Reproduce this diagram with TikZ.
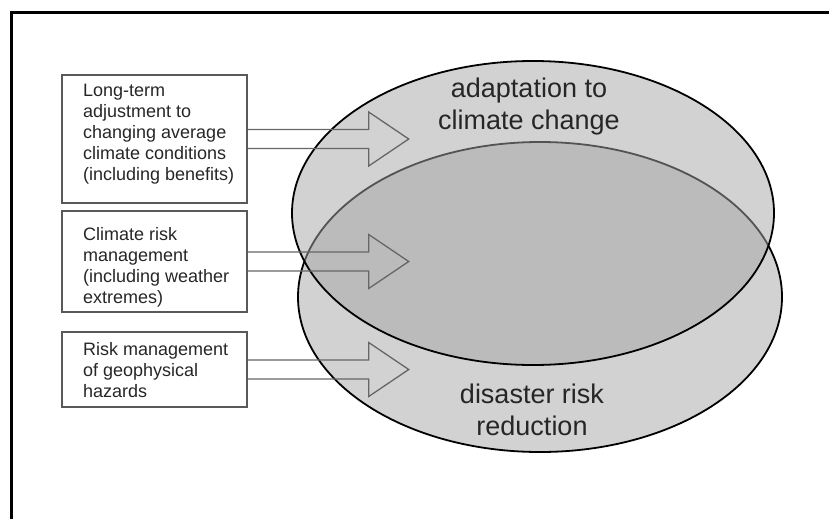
\documentclass[tikz,border=0pt]{standalone}
\usepackage{fontspec}
\setmainfont{Liberation Sans}
\tikzset{
  infobox/.style={draw=black!65,line width=1.4pt,minimum width=185pt,inner sep=0pt},
  infotext/.style={anchor=north west,align=left,inner sep=0pt,font=\fontsize{18}{21}\selectfont,text=black!85},
  bigtext/.style={anchor=north,align=center,inner sep=0pt,font=\fontsize{27}{31.5}\selectfont,text=black!85},
  fatarrow/.style={draw=black!60,line width=1.3pt,line join=miter}
}
\begin{document}
\begin{tikzpicture}[x=1pt,y=-1pt]
\useasboundingbox (0,0) rectangle (829,519);
% frame (only top and left edge show)
\draw[line width=3pt] (11,519) -- (11,13) -- (829,13);
% the two fields
\draw[line width=1.8pt,fill=gray!35] (540,297) ellipse [x radius=242pt, y radius=155pt];
\draw[line width=1.8pt,fill=gray!70,fill opacity=0.5] (533,213) ellipse [x radius=241pt, y radius=152pt];
\node[bigtext] (acc) at (529,78) {adaptation to\\climate change};
\node[bigtext] (drr) at (532,384) {disaster risk\\reduction};
% boxes on the left
\node[infobox,minimum height=128pt] (b1) at (154.5,139) {};
\node[infobox,minimum height=101pt] (b2) at (154.5,261.5) {};
\node[infobox,minimum height=75pt] (b3) at (154.5,369.5) {};
\node[infotext] (t1) at (83,84) {Long-term\\adjustment to\\changing average\\climate conditions\\(including benefits)};
\node[infotext] (t2) at (83,227) {Climate risk\\management\\(including weather\\extremes)};
\node[infotext] (t3) at (83,342) {Risk management\\of geophysical\\hazards};
% outline arrows
\foreach \b in {b1,b2,b3}
  \draw[fatarrow] (\b.east) ++(0,-9.5) -- ++(121,0) -- ++(0,-17.5) -- ++(40,27) -- ++(-40,27) -- ++(0,-17.5) -- ++(-121,0);
\end{tikzpicture}
\end{document}
